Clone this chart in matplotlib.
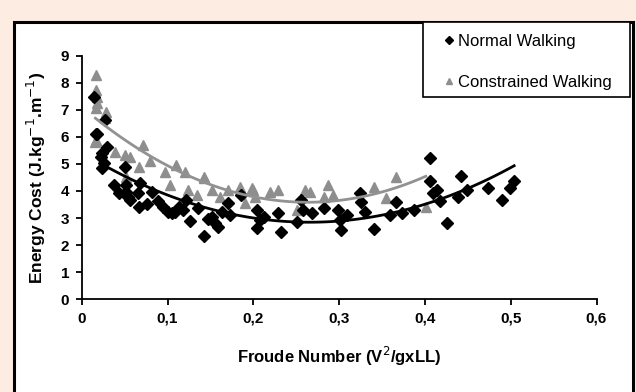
import matplotlib
matplotlib.use('Agg')
import matplotlib.pyplot as plt
from matplotlib.patches import Rectangle
import numpy as np

plt.rcParams['font.family'] = ['Liberation Sans Narrow', 'Liberation Sans', 'DejaVu Sans']

# Normal walking (black diamonds)
normal_x = [0.014, 0.017, 0.027, 0.018, 0.029, 0.024, 0.023, 0.026, 0.024, 0.038,
            0.044, 0.052, 0.054, 0.056, 0.050, 0.052, 0.066, 0.067, 0.076, 0.068,
            0.082, 0.089, 0.101, 0.105, 0.109, 0.113, 0.122, 0.126, 0.136, 0.143,
            0.152, 0.155, 0.159, 0.164, 0.171, 0.173, 0.186, 0.204, 0.204, 0.208,
            0.232, 0.229, 0.251, 0.256, 0.258, 0.282, 0.299, 0.301, 0.302, 0.309,
            0.324, 0.326, 0.330, 0.341, 0.359, 0.366, 0.373, 0.387, 0.406, 0.406,
            0.409, 0.414, 0.418, 0.426, 0.439, 0.442, 0.449, 0.473, 0.490, 0.499,
            0.504, 0.095, 0.118, 0.147, 0.212, 0.268]
normal_y = [7.45, 6.12, 6.62, 6.10, 5.63, 5.41, 5.26, 5.02, 4.83, 4.22,
            3.91, 3.97, 3.79, 3.66, 4.89, 4.22, 3.91, 3.39, 3.52, 4.28,
            3.97, 3.64, 3.23, 3.17, 3.23, 3.39, 3.66, 2.90, 3.36, 2.34,
            3.03, 2.80, 2.68, 3.23, 3.54, 3.11, 3.85, 3.30, 2.62, 2.93,
            2.49, 3.17, 2.86, 3.66, 3.30, 3.36, 3.30, 2.93, 2.56, 3.11,
            3.91, 3.60, 3.23, 2.58, 3.11, 3.60, 3.17, 3.30, 5.20, 4.38,
            3.91, 4.03, 3.64, 2.83, 3.79, 4.56, 4.03, 4.10, 3.68, 4.10,
            4.38, 3.40, 3.30, 2.95, 3.05, 3.20]

# Constrained walking (grey triangles)
constr_x = [0.017, 0.017, 0.018, 0.018, 0.017, 0.028, 0.027, 0.017, 0.016, 0.039,
            0.050, 0.056, 0.052, 0.067, 0.072, 0.097, 0.110, 0.103, 0.124, 0.134,
            0.143, 0.152, 0.161, 0.171, 0.184, 0.198, 0.190, 0.200, 0.202, 0.220,
            0.229, 0.251, 0.260, 0.266, 0.287, 0.293, 0.282, 0.341, 0.355, 0.366,
            0.401, 0.142, 0.080, 0.120]
constr_y = [8.28, 7.72, 7.48, 7.23, 7.05, 6.92, 6.68, 5.88, 5.82, 5.45,
            5.32, 5.26, 4.52, 4.89, 5.69, 4.71, 4.96, 4.22, 4.03, 3.85,
            4.46, 4.03, 3.79, 4.03, 4.16, 4.10, 3.54, 4.03, 3.79, 3.97,
            4.03, 3.30, 4.03, 3.97, 4.22, 3.85, 3.79, 4.13, 3.73, 4.52,
            3.39, 4.52, 5.10, 4.70]

x_ticks = [0, 0.1, 0.2, 0.3, 0.4, 0.5, 0.6]
x_tick_labels = ['0', '0,1', '0,2', '0,3', '0,4', '0,5', '0,6']
y_ticks = list(range(0, 10))

fig = plt.figure(figsize=(6.36, 3.92), dpi=100)
fig.patch.set_facecolor('#fdece2')
# white panel with black frame, behind everything
frame = Rectangle((14 / 636, -0.05), 619 / 636, 1 - 22 / 392 + 0.05,
                  transform=fig.transFigure, facecolor='white',
                  edgecolor='black', linewidth=2.2, zorder=-10)
fig.add_artist(frame)

ax = fig.add_axes([81.7 / 636, 1 - 299.3 / 392, (596.5 - 81.7) / 636, (299.3 - 55.5) / 392])
ax.set_facecolor('none')
ax.set_zorder(1)

ax.plot(normal_x, normal_y, 'D', color='black', markersize=6.3, linestyle='none',
        label='Normal Walking', zorder=3)
ax.plot(constr_x, constr_y, '^', color='#8e8e8e', markersize=7.5, linestyle='none',
        label='Constrained Walking', zorder=2)

# polynomial trendlines (order 2)
pn = np.polyfit(normal_x, normal_y, 2)
xn = np.linspace(min(normal_x) + 0.008, max(normal_x), 100)
ax.plot(xn, np.polyval(pn, xn), color='black', linewidth=2, zorder=4)
pc = np.polyfit(constr_x, constr_y, 2)
xc = np.linspace(min(constr_x), max(constr_x), 100)
ax.plot(xc, np.polyval(pc, xc), color='#929292', linewidth=2, zorder=4)

ax.set_xlim(0, 0.6)
ax.set_ylim(0, 9)
ax.set_xticks(x_ticks)
ax.set_xticklabels(x_tick_labels)
ax.set_yticks(y_ticks)
for s in ['top', 'right']:
    ax.spines[s].set_visible(False)
for s in ['left', 'bottom']:
    ax.spines[s].set_linewidth(1.3)
ax.tick_params(direction='out', length=4, width=1.3, labelsize=11, pad=5)
for lab in ax.get_xticklabels() + ax.get_yticklabels():
    lab.set_fontweight('bold')

ax.set_xlabel('Froude Number (V$^2$/gxLL)', fontsize=12, fontweight='bold', labelpad=14)
ax.set_ylabel('Energy Cost (J.kg$^{-1}$.m$^{-1}$)', fontsize=12.5, fontweight='bold', labelpad=9)

# legend box drawn separately, entries placed inside it
legbox = Rectangle((423 / 636, 1 - 97 / 392), 207 / 636, 75 / 392,
                   transform=fig.transFigure, facecolor='white',
                   edgecolor='black', linewidth=1.2, zorder=4)
fig.add_artist(legbox)
leg = fig.legend(loc='upper left', bbox_to_anchor=(436 / 636, 1 - 26 / 392),
                 fontsize=12, frameon=False, markerscale=0.6, handlelength=0.6,
                 handletextpad=0.25, labelspacing=1.55, borderpad=0.5, borderaxespad=0)
leg.set_zorder(5)

fig.savefig('out.png', dpi=100, facecolor=fig.get_facecolor())
